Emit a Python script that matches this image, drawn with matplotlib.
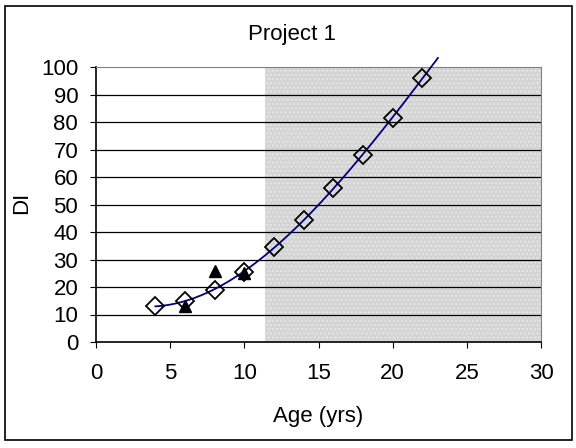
import numpy as np
import matplotlib.pyplot as plt
from matplotlib.patches import Rectangle

plt.rcParams['font.family'] = ['Liberation Sans', 'DejaVu Sans']

# diamonds (model points) and triangles (observed)
age = [4, 6, 8, 10, 12, 14, 16, 18, 20, 22]
di = [13, 15, 19, 25.5, 34.5, 44.5, 56, 68, 81.5, 96]
obs_age = [6, 8, 10]
obs_di = [13, 26, 25]
shade_from = 11.4

W, H = 576, 448
fig = plt.figure(figsize=(W/100, H/100), dpi=100)
ax = fig.add_axes([96/W, 1-342/H, (541-96)/W, (342-67)/H])

ax.axvspan(shade_from, 30, color='#d4d4d4', zorder=0, lw=0)
ax.axvspan(shade_from, 30, facecolor='none', edgecolor='#e6e6e6', hatch='....', lw=0, zorder=0)

for yy in range(10, 100, 10):
    ax.axhline(yy, color='black', lw=0.9, zorder=1)

# polynomial trendline
p = np.polyfit(age, di, 3)
xs = np.linspace(4, 23.05, 200)
ax.plot(xs, np.polyval(p, xs), color='#000080', lw=1.3, zorder=3, clip_on=False)

ax.plot(age, di, 'D', ms=9, mfc='none', mec='black', mew=1.3, zorder=4, clip_on=False)
ax.plot(obs_age, obs_di, '^', ms=8.5, color='black', zorder=5)

ax.set_xlim(0, 30)
ax.set_ylim(0, 100)
ax.set_xticks(range(0, 31, 5))
ax.set_yticks(range(0, 101, 10))
ax.tick_params(labelsize=16, length=4.3, direction='out', color='black')
ax.tick_params(axis='y', pad=8.5)
ax.tick_params(axis='x', pad=11)
for s in ['top', 'right']:
    ax.spines[s].set_color('#808080')
for s in ['left', 'bottom']:
    ax.spines[s].set_color('black')
    ax.spines[s].set_linewidth(1.2)

fig.text(292/W, 1-40/H, 'Project 1', fontsize=16, ha='center', va='baseline')
fig.text(318/W, 1-422/H, 'Age (yrs)', fontsize=16, ha='center', va='baseline')
fig.text(22/W, 1-203/H, 'DI', fontsize=16, ha='center', va='center', rotation=90)

fig.patches.append(Rectangle((5/W, 1-440/H), 567/W, 434/H, transform=fig.transFigure,
                             fill=False, edgecolor='black', lw=1.2))

fig.savefig('out.png', dpi=100)
